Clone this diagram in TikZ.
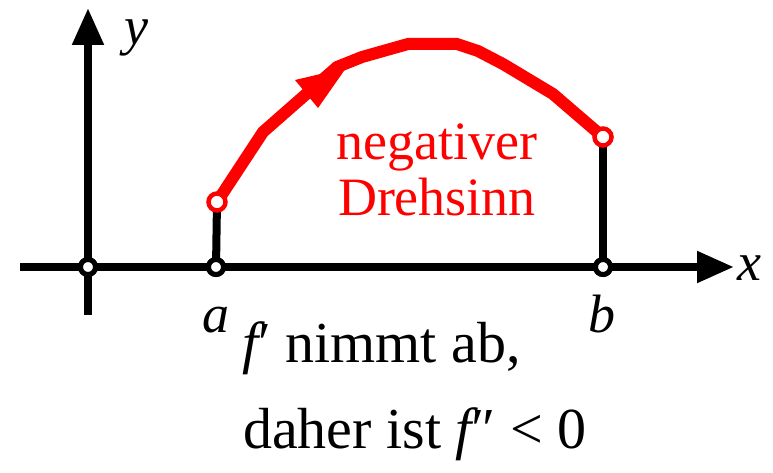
\documentclass[tikz,border=0pt]{standalone}
\usepackage{fontspec}
\newfontfamily\lserif{Liberation Serif}
\usetikzlibrary{arrows.meta}
\begin{document}
\begin{tikzpicture}[x=1pt,y=-1pt,
  axis/.style={line width=8pt, draw=black},
  axisarrow/.style={-{Triangle[length=37pt,width=30pt]}},
  hole/.style={circle, draw=black, fill=white, line width=5pt, minimum size=15pt, inner sep=0pt},
  redhole/.style={circle, draw=red, fill=white, line width=4.5pt, minimum size=17pt, inner sep=0pt},
  lbl/.style={inner sep=0pt, anchor=base west, font=\fontsize{54}{60}\selectfont\lserif},
  txt/.style={inner sep=0pt, anchor=base west, font=\fontsize{58}{64}\selectfont\lserif},
  curve/.style={draw=red, line width=12pt, line join=miter}]
\useasboundingbox (0,0) rectangle (773,473);
% reference points
\coordinate (xs) at (20,267);
\coordinate (xe) at (734,267);
\coordinate (ys) at (88,315);
\coordinate (ye) at (88,8);
% axes
\draw[axis, axisarrow] (xs) -- (xe);
\draw[axis, axisarrow] (ys) -- (ye);
% nodes on axis and curve
\node[hole] (O) at (88,267) {};
\node[hole] (A) at (216,267) {};
\node[hole] (B) at (603,267) {};
\coordinate (Ac) at (217,202);
\coordinate (Bc) at (603,137);
% verticals
\draw[axis] (A.center) -- (Ac);
\draw[axis] (B.center) -- (Bc);
% red curve
\draw[curve] (Ac) -- (263,132) -- (337,67) -- (362,57) -- (408,44) -- (457,44) -- (478,51) -- (503,64) -- (553,94) -- (Bc);
\fill[red] (346,68) -- (295,80) -- (318,108) -- cycle;
% redraw holes on top
\node[hole] at (O) {};
\node[hole] at (A) {};
\node[hole] at (B) {};
\node[redhole] (Ar) at (Ac) {};
\node[redhole] (Br) at (Bc) {};
% labels
\node[lbl] (ylab) at (124,45) {\itshape y};
\node[lbl] (xlab) at (737,280) {\itshape x};
\node[lbl] (alab) at (202,332) {\itshape a};
\node[lbl] (blab) at (588,332) {\itshape b};
\node[lbl, red, anchor=base] (t1) at (437,160) {negativer};
\node[lbl, red, anchor=base] (t2) at (437,215) {Drehsinn};
\node[txt] (l1) at (242,362) {{\itshape f}′ nimmt ab,};
\node[txt] (l2) at (243,448) {daher ist {\itshape f}″ < 0};
\end{tikzpicture}
\end{document}
